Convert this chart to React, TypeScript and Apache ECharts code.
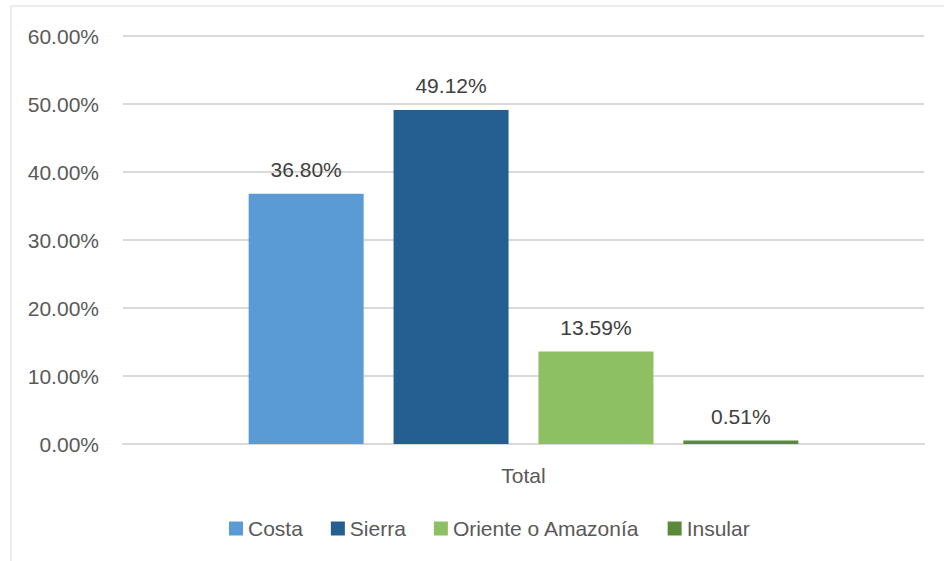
import React, { useEffect, useRef } from "react";
import * as echarts from "echarts";

const categories = ["Total"];
const seriesNames = ["Costa", "Sierra", "Oriente o Amazonía", "Insular"];
const seriesValues = [0.368, 0.4912, 0.1359, 0.0051];
const seriesColors = ["#5B9BD5", "#255E91", "#8DC063", "#5A8A37"];
const yTicks = { min: 0, max: 0.6, interval: 0.1 };

const pct = (v: number) => (v * 100).toFixed(2) + "%";

export default function App() {
  const ref = useRef<HTMLDivElement>(null);
  useEffect(() => {
    if (!ref.current) return;
    const chart = echarts.init(ref.current, undefined, { renderer: "svg" });
    const font = "'Liberation Sans', Arial, sans-serif";
    chart.setOption({
      animation: false,
      backgroundColor: "#ffffff",
      textStyle: { fontFamily: font },
      graphic: [
        {
          type: "rect",
          shape: { x: 11, y: 6, width: 980, height: 620 },
          style: { fill: "none", stroke: "#D9D9D9", lineWidth: 1 },
          silent: true,
          z: -1,
        },
      ],
      grid: { left: 123, right: 20, top: 36, bottom: 117 },
      legend: {
        left: 224,
        top: 513,
        itemWidth: 14,
        itemHeight: 14,
        itemGap: 28,
        icon: "rect",
        textStyle: { fontSize: 21, color: "#595959", fontFamily: font },
        data: seriesNames,
      },
      xAxis: {
        type: "category",
        data: categories,
        axisTick: { show: false },
        axisLine: { lineStyle: { color: "#D9D9D9", width: 2 } },
        axisLabel: { fontSize: 21, color: "#595959", margin: 21, fontFamily: font },
      },
      yAxis: {
        type: "value",
        min: yTicks.min,
        max: yTicks.max,
        interval: yTicks.interval,
        axisLine: { show: false },
        axisTick: { show: false },
        splitLine: { lineStyle: { color: "#D9D9D9", width: 2 } },
        axisLabel: {
          fontSize: 21,
          color: "#595959",
          margin: 24,
          fontFamily: font,
          formatter: (v: number) => pct(v),
        },
      },
      series: seriesNames.map((name, i) => ({
        name,
        type: "bar",
        data: [seriesValues[i]],
        barWidth: 115,
        barGap: "26%",
        itemStyle: { color: seriesColors[i] },
        label: {
          show: true,
          position: "top",
          distance: 14,
          fontSize: 21,
          color: "#404040",
          fontFamily: font,
          formatter: (p: any) => pct(p.value),
        },
      })),
    });
    return () => chart.dispose();
  }, []);
  return (
    <div
      ref={ref}
      style={{ position: "fixed", left: 0, top: 0, width: 944, height: 561 }}
    />
  );
}
